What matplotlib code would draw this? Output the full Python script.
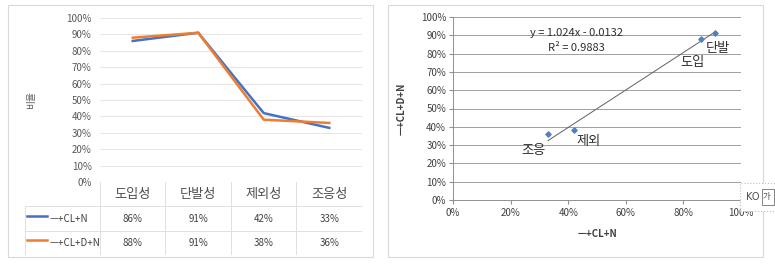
import numpy as np
import matplotlib
matplotlib.use("Agg")
import matplotlib.pyplot as plt
from matplotlib.patches import Rectangle

plt.rcParams['font.family'] = ['Noto Sans CJK KR', 'DejaVu Sans']

categories = ["도입성", "단발성", "제외성", "조응성"]
short_names = ["도입", "단발", "제외", "조응"]
series_names = ["ㅡ+CL+N", "ㅡ+CL+D+N"]
cl_n = [0.86, 0.91, 0.42, 0.33]
cl_d_n = [0.88, 0.91, 0.38, 0.36]
line_colors = ["#4472C4", "#ED7D31"]

W, H = 775, 265
fig = plt.figure(figsize=(W / 100, H / 100), dpi=100)


def box(x0, y0, x1, y1):
    # pixel box (top-left origin) -> figure fraction
    return [x0 / W, 1 - y1 / H, (x1 - x0) / W, (y1 - y0) / H]


# panel borders
fig.patches.append(Rectangle((8 / W, 1 - 257 / H), 365 / W, 252 / H, transform=fig.transFigure,
                             fill=False, edgecolor="#d9d9d9", lw=0.8))
fig.patches.append(Rectangle((388 / W, 1 - 257 / H), 375 / W, 252 / H, transform=fig.transFigure,
                             fill=False, edgecolor="#d9d9d9", lw=0.8))

# ---- left: line chart ----
ax1 = fig.add_axes(box(100, 18, 362, 182))
x = np.arange(len(categories))
ax1.plot(x, cl_n, color=line_colors[0], lw=1.8, zorder=3)
ax1.plot(x, cl_d_n, color=line_colors[1], lw=1.8, zorder=3)
ax1.set_xlim(-0.5, 3.5)
ax1.set_ylim(0, 1)
ax1.set_yticks(np.arange(0, 1.01, 0.1))
ax1.set_yticklabels([f"{int(round(v * 100))}%" for v in np.arange(0, 1.01, 0.1)], fontsize=7, color="#595959")
ax1.set_xticks([])
ax1.tick_params(axis="y", length=0, pad=6)
ax1.grid(axis="y", color="#e6e6e6", lw=0.7)
for s in ax1.spines.values():
    s.set_visible(False)
ax1.set_ylabel("비율", fontsize=7, color="#595959", labelpad=22)

# table below
axt = fig.add_axes(box(25, 182, 362, 255))
px = 65.5
axt.set_xlim(-0.5 - 75 / px, 3.5)
axt.set_ylim(3, 0)
axt.axis("off")
gc = "#e0e0e0"
for i in range(5):
    axt.plot([i - 0.5, i - 0.5], [0, 3], color=gc, lw=0.7)
axt.plot([-0.5 - 75 / px, -0.5 - 75 / px], [1, 3], color=gc, lw=0.7)
for r in [1, 2, 3]:
    axt.plot([-0.5 - 75 / px, 3.5], [r, r], color=gc, lw=0.7)
for i, c in enumerate(categories):
    axt.text(i, 0.5, c, ha="center", va="center", fontsize=9.5, color="#505050")
for r, (vals, name, col) in enumerate(zip([cl_n, cl_d_n], series_names, line_colors)):
    for i, v in enumerate(vals):
        axt.text(i, r + 1.5, f"{int(round(v * 100))}%", ha="center", va="center", fontsize=7, color="#404040")
    axt.plot([-0.5 - 73 / px, -0.5 - 53 / px], [r + 1.4, r + 1.4], color=col, lw=1.8)
    axt.text(-0.5 - 50 / px, r + 1.5, name, ha="left", va="center", fontsize=7, color="#404040")

# ---- right: scatter chart ----
ax2 = fig.add_axes(box(453, 17, 741, 200))
ax2.scatter(cl_n, cl_d_n, marker="D", s=7, color="#4F81BD", zorder=3)
slope, intercept = 1.024, -0.0132
xs = np.array([min(cl_n), max(cl_n)])
ax2.plot(xs, slope * xs + intercept, color="#606060", lw=0.7, zorder=2)
ax2.set_xlim(0, 1)
ax2.set_ylim(0, 1)
ax2.set_xticks(np.arange(0, 1.01, 0.2))
ax2.set_xticklabels([f"{int(round(v * 100))}%" for v in np.arange(0, 1.01, 0.2)], fontsize=7, color="#404040")
ax2.set_yticks(np.arange(0, 1.01, 0.1))
ax2.set_yticklabels([f"{int(round(v * 100))}%" for v in np.arange(0, 1.01, 0.1)], fontsize=7, color="#404040")
ax2.grid(axis="y", color="#909090", lw=0.6)
ax2.tick_params(axis="y", length=3, color="#909090", pad=2)
ax2.tick_params(axis="x", length=3, color="#909090", pad=3)
for k in ["top", "right"]:
    ax2.spines[k].set_visible(False)
ax2.spines["left"].set_color("#909090")
ax2.spines["bottom"].set_color("#909090")
ax2.spines["left"].set_linewidth(0.7)
ax2.spines["bottom"].set_linewidth(0.7)
ax2.set_xlabel(series_names[0], fontsize=7, fontweight="bold", color="#404040", labelpad=8)
ax2.set_ylabel(series_names[1], fontsize=7, fontweight="bold", color="#404040", labelpad=10)
ax2.text(0.43, 0.91, "y = 1.024x - 0.0132", ha="center", va="center", fontsize=8, color="#303030")
ax2.text(0.43, 0.83, "R² = 0.9883", ha="center", va="center", fontsize=8, color="#303030")

label_pos = {"도입": (0.83, 0.75), "단발": (0.92, 0.83), "제외": (0.47, 0.32), "조응": (0.28, 0.27)}
for n in short_names:
    lx, ly = label_pos[n]
    ax2.text(lx, ly, n, ha="center", va="center", fontsize=9.5, color="#303030")

# IME overlay box (drawn on top of the axes)
fig.add_artist(Rectangle((740 / W, 1 - 211 / H), 40 / W, 28 / H, transform=fig.transFigure,
                         facecolor="white", edgecolor="#c0c0c0", lw=0.8, ls=":", zorder=10))
fig.add_artist(Rectangle((762 / W, 1 - 205 / H), 12 / W, 16 / H, transform=fig.transFigure,
                         fill=False, edgecolor="#707070", lw=0.6, zorder=11))
fig.text(746 / W, 1 - 197 / H, "KO", fontsize=7, color="#505050", va="center",
         family=["DejaVu Sans"], zorder=12)
fig.text(763 / W, 1 - 197 / H, "가", fontsize=6, color="#505050", va="center", zorder=12)

fig.savefig("out.png", dpi=100)
